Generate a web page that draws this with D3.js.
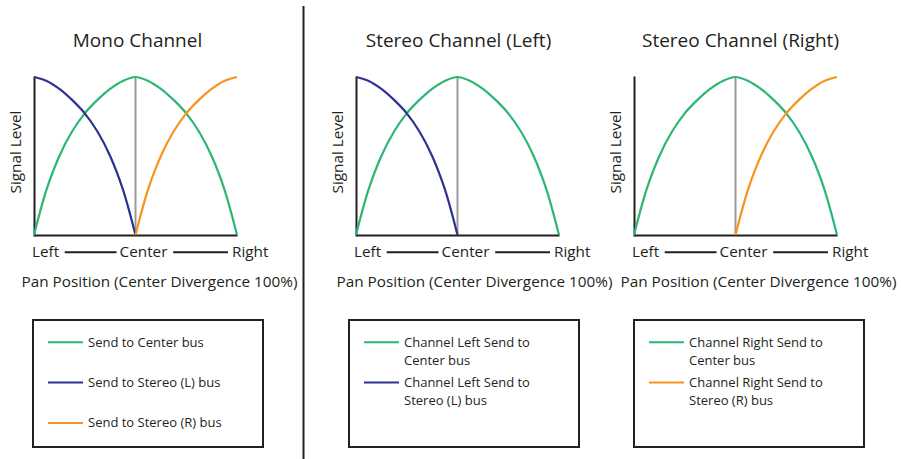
<!DOCTYPE html>
<html>
<head>
<meta charset="utf-8">
<script src="https://cdn.jsdelivr.net/npm/d3@7/dist/d3.min.js"></script>
<style>
  html, body { margin: 0; padding: 0; background: #fff; }
  svg { display: block; font-family: 'Open Sans', sans-serif; }
</style>
</head>
<body>
<svg width="901" height="459"></svg>
<script>
// pan position, -1 = hard left, 0 = center, 1 = hard right
const panPos = [-1, -0.875, -0.75, -0.625, -0.5, -0.375, -0.25, -0.125, 0,
  0.125, 0.25, 0.375, 0.5, 0.625, 0.75, 0.875, 1]

// signal level (1 = full level)
const centerSend = [0, 0.29, 0.50, 0.655, 0.77, 0.855, 0.925, 0.975, 1,
  0.975, 0.925, 0.855, 0.77, 0.655, 0.50, 0.29, 0]
const stereoLSend = [1, 0.975, 0.925, 0.855, 0.77, 0.655, 0.50, 0.29, 0,
  null, null, null, null, null, null, null, null]
const stereoRSend = [null, null, null, null, null, null, null, null, 0,
  0.29, 0.50, 0.655, 0.77, 0.855, 0.925, 0.975, 1]

const panTickLabels = ['Left', 'Center', 'Right']
const xTitle = 'Pan Position (Center Divergence 100%)'
const yTitle = 'Signal Level'

const panelTitles = ['Mono Channel', 'Stereo Channel (Left)', 'Stereo Channel (Right)']
const panelSeries = [
  ['center', 'stereoL', 'stereoR'],
  ['center', 'stereoL'],
  ['center', 'stereoR']
]
const legendLabels = [
  [['Send to Center bus'], ['Send to Stereo (L) bus'], ['Send to Stereo (R) bus']],
  [['Channel Left Send to', 'Center bus'], ['Channel Left Send to', 'Stereo (L) bus']],
  [['Channel Right Send to', 'Center bus'], ['Channel Right Send to', 'Stereo (R) bus']]
]

const seriesValues = { center: centerSend, stereoL: stereoLSend, stereoR: stereoRSend }
const seriesColor = { center: '#2bb673', stereoL: '#2e3192', stereoR: '#f7941d' }

const ink = '#231f20'
const svg = d3.select('svg')

// layout of each panel (left edge of plot, small text nudges, legend box)
const layout = [
  { left: 34, titleDx: 2, labelDx: 24, boxX: 33 },
  { left: 356, titleDx: 1, labelDx: 17, boxX: 349 },
  { left: 634, titleDx: 5, labelDx: 23, boxX: 634 }
]
const plotW = 203
const plotTop = 77, plotBase = 235

svg.append('rect').attr('width', 901).attr('height', 459).attr('fill', '#fff')

// divider
svg.append('line')
  .attr('x1', 303.5).attr('x2', 303.5)
  .attr('y1', 6).attr('y2', 459)
  .attr('stroke', ink).attr('stroke-width', 2)

function drawPanel (i) {
  const L = layout[i]
  const g = svg.append('g').attr('class', 'panel')

  const x = d3.scaleLinear().domain([-1, 1]).range([L.left, L.left + plotW])
  const y = d3.scaleLinear().domain([0, 1]).range([plotBase, plotTop])

  // axes run a little past the data
  const xAxisScale = x.copy().domain([-1, 1.12])
  const yAxisScale = y.copy().domain([0, 1.09])

  g.append('g')
    .attr('transform', `translate(0,${plotBase})`)
    .call(d3.axisBottom(xAxisScale).ticks(0).tickSizeOuter(0))
    .call(a => a.select('.domain').attr('stroke', ink).attr('stroke-width', 2))

  g.append('g')
    .attr('transform', `translate(${L.left},0)`)
    .call(d3.axisLeft(yAxisScale).ticks(0).tickSizeOuter(0))
    .call(a => a.select('.domain').attr('stroke', ink).attr('stroke-width', 2).attr('stroke-linecap', 'square'))

  // center marker
  g.append('line')
    .attr('x1', x(0)).attr('x2', x(0))
    .attr('y1', y(0)).attr('y2', y(1))
    .attr('stroke', '#9a9a9a').attr('stroke-width', 2)

  const line = d3.line()
    .defined(d => d[1] != null)
    .x(d => x(d[0]))
    .y(d => y(d[1]))
    .curve(d3.curveCatmullRom.alpha(0.5))

  g.selectAll('path.curve')
    .data(panelSeries[i])
    .enter()
    .append('path')
    .attr('class', 'curve')
    .attr('fill', 'none')
    .attr('stroke', d => seriesColor[d])
    .attr('stroke-width', 2.2)
    .attr('d', d => line(panPos.map((p, k) => [p, seriesValues[d][k]])))

  // title
  g.append('text')
    .attr('x', x(0) + L.titleDx).attr('y', 47)
    .attr('text-anchor', 'middle')
    .attr('font-size', 19)
    .attr('fill', ink)
    .text(panelTitles[i])

  // Left ---- Center ---- Right
  const tickY = 257
  const tl = g.append('text').attr('x', x(-1) - 2).attr('y', tickY)
    .attr('font-size', 15.3).attr('fill', ink).text(panTickLabels[0])
  const tc = g.append('text').attr('x', x(0) + 8).attr('y', tickY)
    .attr('text-anchor', 'middle')
    .attr('font-size', 15.3).attr('fill', ink).text(panTickLabels[1])
  const tr = g.append('text').attr('x', x(1) - 5).attr('y', tickY)
    .attr('font-size', 15.3).attr('fill', ink).text(panTickLabels[2])

  const bl = tl.node().getBBox(), bc = tc.node().getBBox(), br = tr.node().getBBox()
  const dashes = [[bl.x + bl.width + 5, bc.x - 3], [bc.x + bc.width + 5, br.x - 4]]
  g.selectAll('line.dash')
    .data(dashes)
    .enter()
    .append('line')
    .attr('class', 'dash')
    .attr('x1', d => d[0]).attr('x2', d => d[1])
    .attr('y1', tickY - 4.7).attr('y2', tickY - 4.7)
    .attr('stroke', ink).attr('stroke-width', 2)

  g.append('text')
    .attr('x', x(0) + L.labelDx).attr('y', 287)
    .attr('text-anchor', 'middle')
    .attr('font-size', 15.3).attr('fill', ink)
    .text(xTitle)

  g.append('text')
    .attr('transform', `translate(${L.left - 13},152) rotate(-90)`)
    .attr('text-anchor', 'middle')
    .attr('font-size', 15.3).attr('fill', ink)
    .text(yTitle)

  // legend box
  const box = g.append('g').attr('transform', `translate(${L.boxX},320)`)
  box.append('rect')
    .attr('width', 230).attr('height', 127)
    .attr('fill', 'none').attr('stroke', ink).attr('stroke-width', 2)

  const items = box.selectAll('g.item')
    .data(panelSeries[i])
    .enter()
    .append('g')
    .attr('class', 'item')
    .attr('transform', (d, k) => `translate(0,${22.3 + k * 40.3})`)

  items.append('line')
    .attr('x1', 15).attr('x2', 50)
    .attr('stroke', d => seriesColor[d]).attr('stroke-width', 2)

  items.append('text')
    .attr('font-size', 13).attr('fill', ink)
    .selectAll('tspan')
    .data((d, k) => legendLabels[i][k])
    .enter()
    .append('tspan')
    .attr('x', 55)
    .attr('y', (d, k) => 4.5 + k * 18)
    .text(d => d)
}

panelTitles.forEach((t, i) => drawPanel(i))
</script>
</body>
</html>
